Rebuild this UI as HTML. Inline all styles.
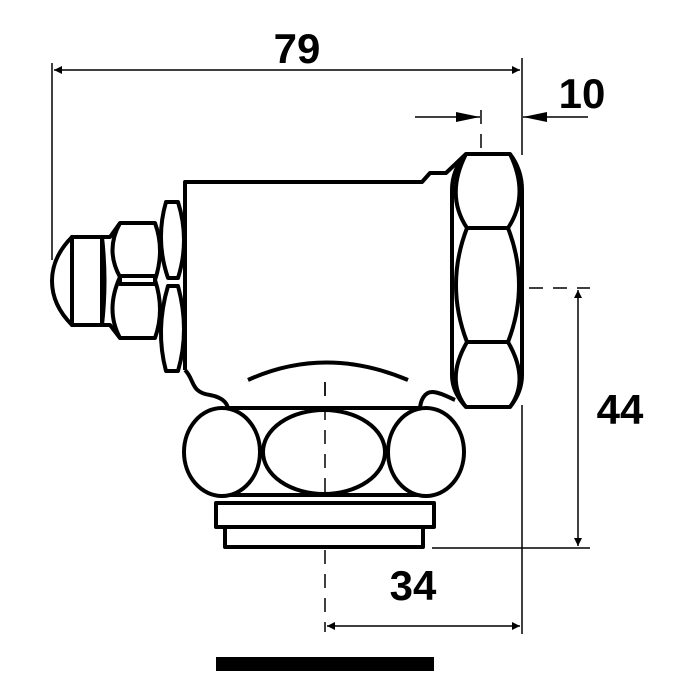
<!DOCTYPE html>
<html><head><style>body{margin:0;background:#fff}svg{display:block}</style></head><body>
<svg width="700" height="700" viewBox="0 0 700 700" xmlns="http://www.w3.org/2000/svg">
<defs>
<marker id="a" viewBox="0 0 10 10" refX="10" refY="5" markerWidth="10" markerHeight="8" orient="auto-start-reverse" markerUnits="userSpaceOnUse"><path d="M0,0 L10,5 L0,10z" fill="#000"/></marker>
<marker id="b" viewBox="0 0 24 10" refX="24" refY="5" markerWidth="24" markerHeight="10" orient="auto" markerUnits="userSpaceOnUse"><path d="M0,0 L24,5 L0,10z" fill="#000"/></marker>
</defs>
<g stroke="#000" fill="none" stroke-width="1.5">
<line x1="52" y1="63" x2="52" y2="260"/>
<line x1="522" y1="58" x2="522" y2="155"/>
<line x1="54" y1="70" x2="520" y2="70" marker-start="url(#a)" marker-end="url(#a)"/>
<line x1="415" y1="117" x2="480" y2="117" marker-end="url(#b)"/>
<line x1="588" y1="117" x2="523" y2="117" marker-end="url(#b)"/>
<line x1="481" y1="110" x2="481" y2="290" stroke-dasharray="14,10"/>
<line x1="505" y1="288" x2="590" y2="288" stroke-dasharray="14,10"/>
<line x1="578" y1="290" x2="578" y2="546" marker-start="url(#a)" marker-end="url(#a)"/>
<line x1="432" y1="548" x2="590" y2="548"/>
<line x1="522" y1="405" x2="522" y2="634"/>
<line x1="327" y1="626" x2="520" y2="626" marker-start="url(#a)" marker-end="url(#a)"/>
<line x1="325" y1="382" x2="325" y2="632" stroke-dasharray="14,10"/>
</g>
<g stroke="#000" fill="#fff" stroke-width="4" stroke-linejoin="round">
<!-- body -->
<path d="M185,370 L185,182 L422,182 L430,173 L446,173 L466,154"/>
<path d="M185,370 C195,380 190,392 210,395 C225,398 228,405 228,410" />
<path d="M420,410 C420,400 425,392 432,392 C440,392 450,398 455,400"/>
<path d="M248,380 Q325,345 408,380" fill="none"/>
<!-- right nut -->
<path d="M466,154 L510,154 Q522,170 522,190 L522,375 Q522,392 510,407 L466,407 Q452,392 452,375 L452,190 Q452,170 466,154Z"/>
<path d="M466,154 Q445,195 467,228 M510,154 Q530,195 508,228 M467,228 Q445,285 467,342 M508,228 Q530,285 508,342 M467,342 Q445,380 466,407 M508,342 Q530,380 510,407" fill="none"/>
<line x1="467" y1="228" x2="508" y2="228"/><line x1="467" y1="342" x2="508" y2="342"/>
<!-- left parts -->
<path d="M72,237 L72,325 Q52,305 52,281 Q52,257 72,237Z"/>
<rect x="72" y="237" width="30" height="88"/>
<path d="M102,237 L110,237 L120,223 L155,223 Q165,250 155,280 L155,280 Q165,310 155,338 L120,338 L110,325 L102,325 Q107,281 102,237Z"/>
<path d="M120,223 Q105,250 120,277 Q105,310 120,338" fill="none"/>
<rect x="120" y="276" width="35" height="8"/>
<path d="M166,202 L178,202 Q190,240 178,278 L168,278 Q155,240 166,202Z"/>
<path d="M168,286 L178,286 Q190,330 178,371 L166,371 Q155,330 168,286Z"/>
<!-- bottom -->
<rect x="216" y="503" width="218" height="24"/>
<rect x="225" y="527" width="198" height="20"/>
<line x1="228" y1="408" x2="420" y2="408"/><line x1="222" y1="495" x2="430" y2="495"/>
<ellipse cx="222" cy="452" rx="38" ry="44"/>
<ellipse cx="426" cy="452" rx="38" ry="44"/>
<ellipse cx="324" cy="452" rx="61" ry="42"/>
</g>
<line x1="325" y1="382" x2="325" y2="500" stroke="#000" stroke-width="1.5" stroke-dasharray="14,10"/>
<rect x="216" y="657" width="218" height="14" fill="#000"/>
<g font-family="Liberation Sans, sans-serif" font-weight="bold" font-size="42" fill="#000" text-anchor="middle">
<text x="297" y="63">79</text>
<text x="582" y="108">10</text>
<text x="620" y="424">44</text>
<text x="413" y="600">34</text>
</g>
</svg>
</body></html>
